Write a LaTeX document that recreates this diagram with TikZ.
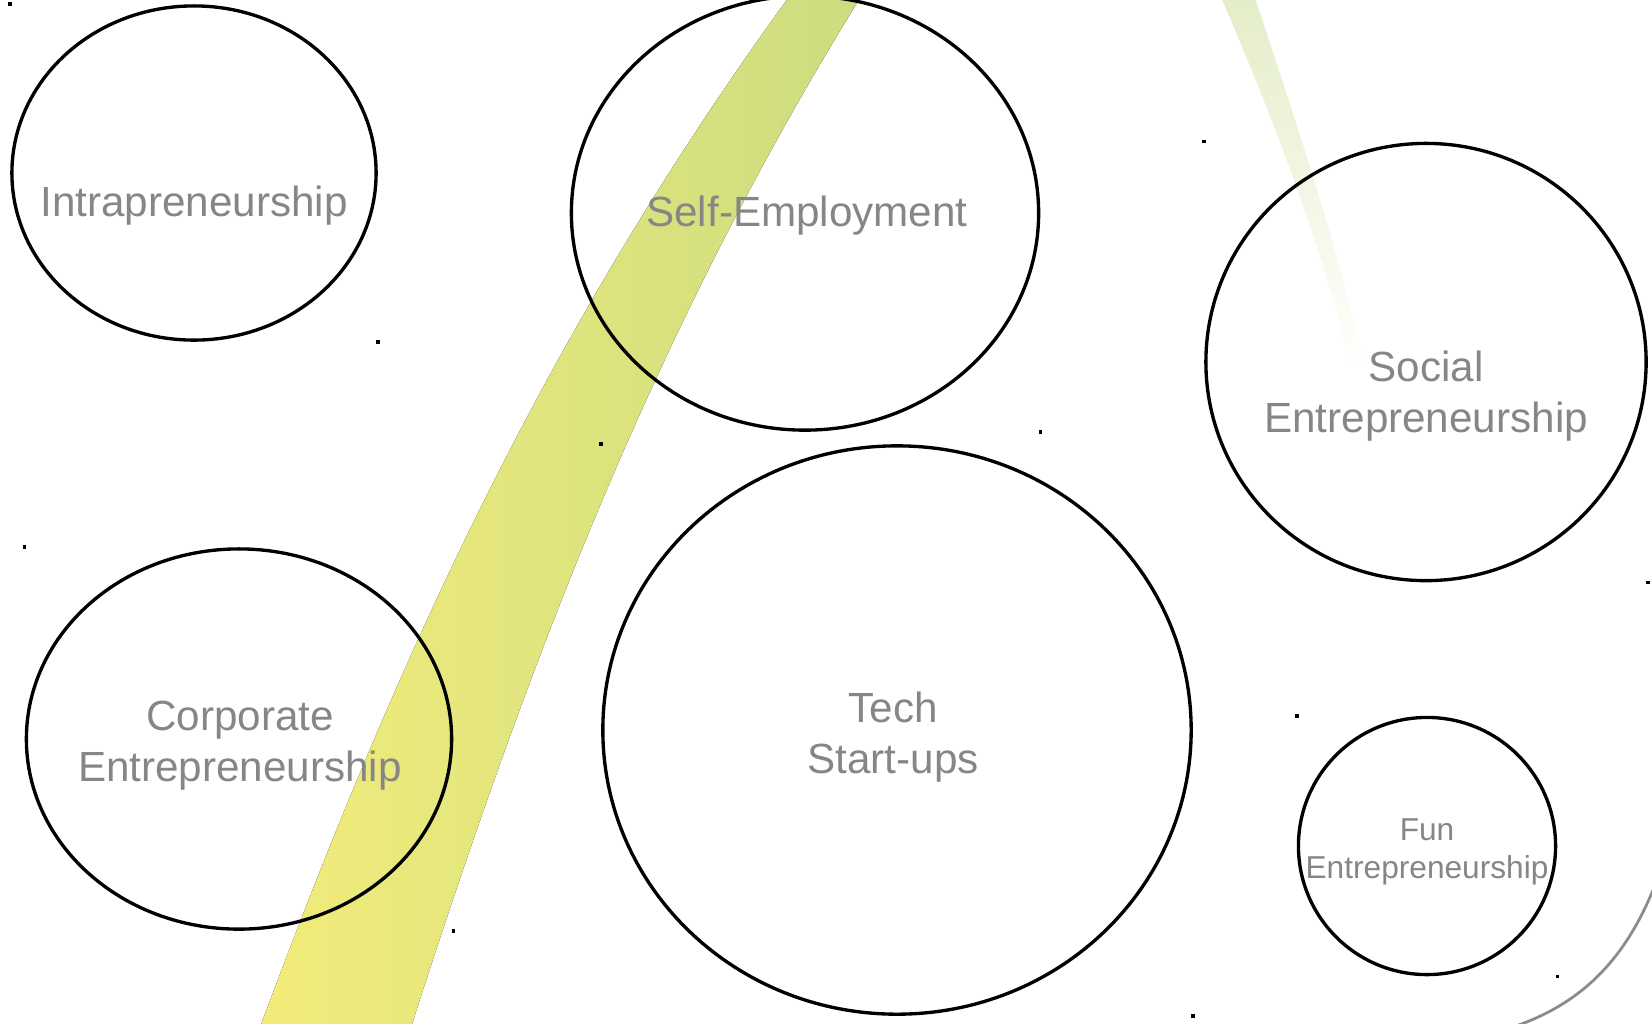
\documentclass[tikz,border=0pt]{standalone}
\usepackage{fontspec}
\setmainfont{Liberation Sans}
\usetikzlibrary{shapes.geometric}
\usetikzlibrary{fadings}
\definecolor{bandyellow}{RGB}{242,236,122}
\definecolor{bandgreen}{RGB}{204,220,128}
\definecolor{bandpale}{RGB}{228,237,200}
\definecolor{txtgray}{RGB}{134,134,134}
\definecolor{rimgray}{RGB}{140,140,140}
\tikzstyle{bubble}=[draw, ellipse, line width=0.95pt, inner sep=0pt]
\tikzstyle{caption}=[text=txtgray, align=center, anchor=north, inner sep=0pt, font={\fontsize{12pt}{14.5pt}\selectfont}]
\tikzstyle{small caption}=[caption, font={\fontsize{9pt}{10.8pt}\selectfont}]
\tikzstyle{rim}=[draw=rimgray, line width=0.8pt]

\begin{document}
\begin{tikzpicture}[x=0.01cm, y=-0.01cm]
  \useasboundingbox (0,0) rectangle (1652,1023);
  \clip (0,0) rectangle (1652,1023);

  % sweeping band behind the bubbles
  \fill[left color=bandyellow, right color=bandgreen] (259,1030) .. controls (388,683) and (538,340) .. (794,-10) -- (865,-10) .. controls (647,340) and (522,683) .. (410,1030) -- cycle;
  \fill[bandpale, path fading=south] (1220,-5) .. controls (1270,110) and (1320,240) .. (1352,370) -- (1366,370) .. controls (1336,240) and (1292,110) .. (1254,-5) -- cycle;

    \node [bubble, minimum width=3.64cm, minimum height=3.34cm] (intra) at (194,173) {};
    \node [bubble, minimum width=4.67cm, minimum height=4.34cm] (selfemp) at (805,213) {};
    \node [bubble, minimum width=4.40cm, minimum height=4.37cm] (social) at (1426,362) {};
    \node [bubble, minimum width=4.25cm, minimum height=3.80cm] (corp) at (239,739) {};
    \node [bubble, minimum width=5.88cm, minimum height=5.68cm] (tech) at (897,730) {};
    \node [bubble, minimum width=2.57cm, minimum height=2.57cm] (fun) at (1427,846) {};

    \node [caption] (intra-txt) at (194,185) {Intrapreneurship};
    \node [caption] (selfemp-txt) at (807,195) {Self-Employment};
    \node [caption] (social-txt) at (1426,350) {Social\\Entrepreneurship};
    \node [caption] (corp-txt) at (240,700) {Corporate\\Entrepreneurship};
    \node [caption] (tech-txt) at (893,691) {Tech\\Start-ups};
    \node [small caption] (fun-txt) at (1427,818) {Fun\\Entrepreneurship};

    % corner marks of each bubble
    \foreach \b in {intra,selfemp,social,corp,tech,fun}{
      \fill (\b.west |- \b.north) +(-1.75,-1.75) rectangle +(1.75,1.75);
      \fill (\b.east |- \b.south) +(-1.75,-1.75) rectangle +(1.75,1.75);
    }

    \draw[rim] (1662,866) .. controls (1630,960) and (1580,1005) .. (1510,1028);
\end{tikzpicture}
\end{document}
